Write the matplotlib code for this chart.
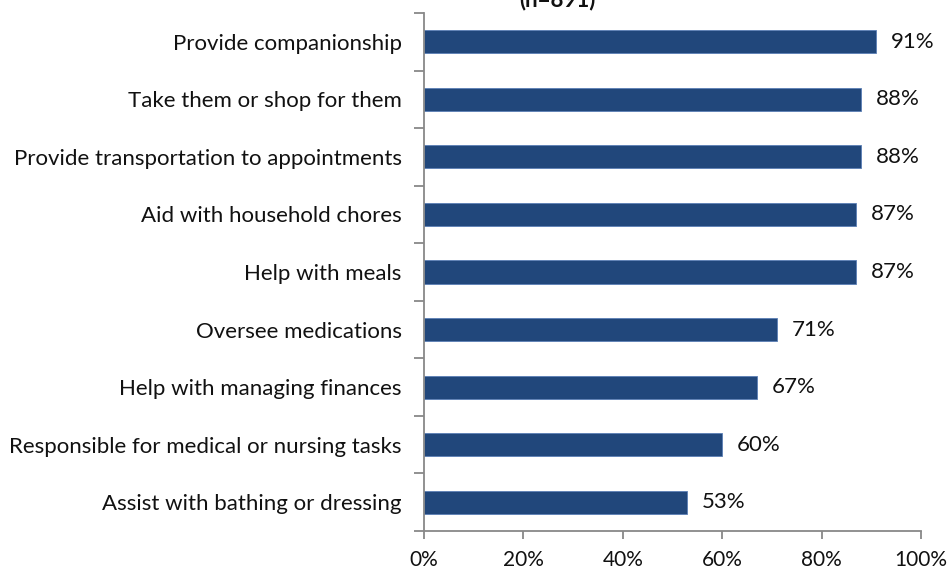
import matplotlib
matplotlib.use("Agg")
import matplotlib.pyplot as plt
from matplotlib.ticker import FixedLocator, PercentFormatter

categories = [
    "Provide companionship",
    "Take them or shop for them",
    "Provide transportation to appointments",
    "Aid with household chores",
    "Help with meals",
    "Oversee medications",
    "Help with managing finances",
    "Responsible for medical or nursing tasks",
    "Assist with bathing or dressing",
]
values = [91, 88, 88, 87, 87, 71, 67, 60, 53]
x_ticks = [0, 20, 40, 60, 80, 100]
subtitle = "(n=891)"

plt.rcParams["font.family"] = ["Lato", "DejaVu Sans"]
FS = 16

fig = plt.figure(figsize=(9.48, 5.71), dpi=100)
ax = fig.add_axes([424 / 948, 1 - 531 / 571, (921 - 424) / 948, (531 - 13) / 571])

n = len(categories)
ypos = list(range(n))[::-1]
ax.barh(ypos, values, height=0.4, color="#21477B", edgecolor="#5B7FB5", linewidth=0.6)

for y, v in zip(ypos, values):
    ax.annotate(f"{v}%", xy=(v, y), xytext=(10.5, 0), textcoords="offset points",
                va="center", ha="left", fontsize=FS, color="#111111")

ax.set_xlim(0, 100)
ax.set_ylim(-0.5, n - 0.5)
ax.set_xticks(x_ticks)
ax.xaxis.set_major_formatter(PercentFormatter(decimals=0))
ax.set_yticks(ypos)
ax.set_yticklabels(categories)
ax.yaxis.set_minor_locator(FixedLocator([i - 0.5 for i in range(n + 1)]))

for side in ("top", "right"):
    ax.spines[side].set_visible(False)
for side in ("left", "bottom"):
    ax.spines[side].set_color("#888888")
    ax.spines[side].set_linewidth(1.3)

ax.tick_params(axis="y", which="major", length=0, pad=16, labelsize=FS, labelcolor="#111111")
ax.tick_params(axis="y", which="minor", length=7, width=1.3, color="#888888")
ax.tick_params(axis="x", which="major", length=6, width=1.3, color="#888888",
               pad=8, labelsize=15, labelcolor="#111111")

fig.text(557 / 948, 1 - 10 / 571, subtitle, ha="center", va="bottom",
         fontsize=FS, fontweight="bold", color="#111111")

fig.savefig("out.png", dpi=100)
